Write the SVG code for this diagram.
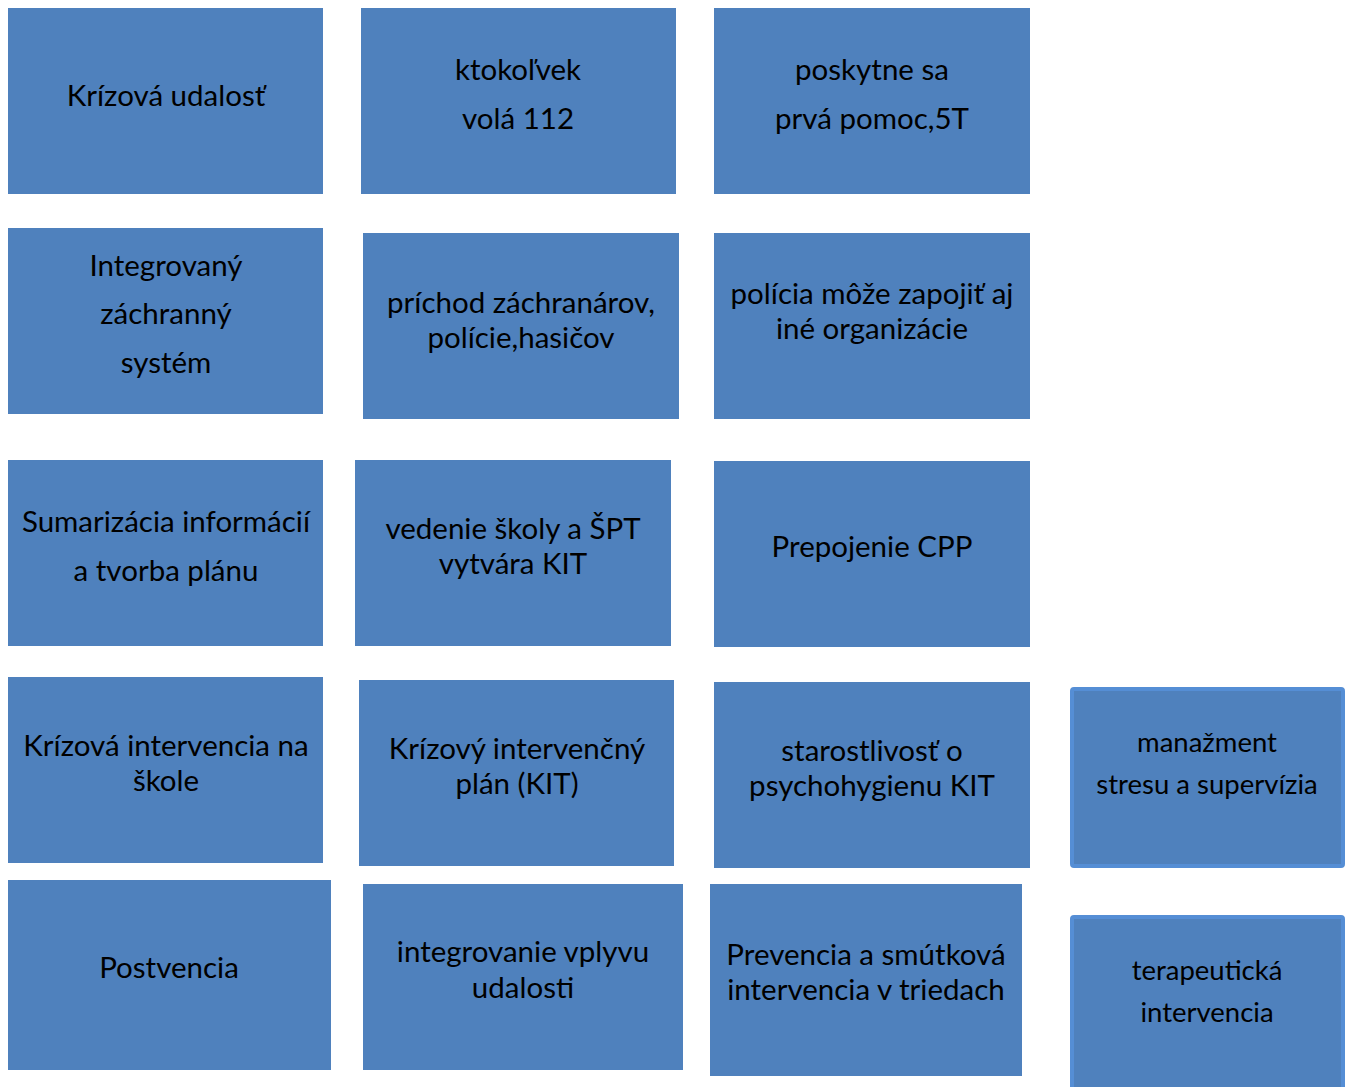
<svg xmlns="http://www.w3.org/2000/svg" width="1352" height="1087" viewBox="0 0 1352 1087">
<style>
.b{fill:#4F81BD;}
.b2{fill:#4F81BD;stroke:#558ED5;stroke-width:4;}
text{font-family:Lato,"Open Sans","Liberation Sans",sans-serif;font-size:29.5px;fill:#000;text-anchor:middle;}
.s{font-size:27.5px;}
</style>
<rect width="1352" height="1087" fill="#fff"/>
<g id="connectors"></g>
<g id="n1"><rect class="b" x="8" y="8" width="315" height="186"/><text x="166" y="106">Krízová udalosť</text></g>
<g id="n2"><rect class="b" x="361" y="8" width="315" height="186"/><text x="518" y="80">ktokoľvek</text><text x="518" y="129">volá 112</text></g>
<g id="n3"><rect class="b" x="714" y="8" width="316" height="186"/><text x="872" y="80">poskytne sa</text><text x="872" y="129">prvá pomoc,5T</text></g>
<g id="n4"><rect class="b" x="8" y="228" width="315" height="186"/><text x="166" y="276">Integrovaný</text><text x="166" y="324">záchranný</text><text x="166" y="373">systém</text></g>
<g id="n5"><rect class="b" x="363" y="233" width="316" height="186"/><text x="521" y="313">príchod záchranárov,</text><text x="521" y="348">polície,hasičov</text></g>
<g id="n6"><rect class="b" x="714" y="233" width="316" height="186"/><text x="872" y="304">polícia môže zapojiť aj</text><text x="872" y="339">iné organizácie</text></g>
<g id="n7"><rect class="b" x="8" y="460" width="315" height="186"/><text x="166" y="532">Sumarizácia informácií</text><text x="166" y="581">a tvorba plánu</text></g>
<g id="n8"><rect class="b" x="355" y="460" width="316" height="186"/><text x="513" y="539">vedenie školy a ŠPT</text><text x="513" y="574">vytvára KIT</text></g>
<g id="n9"><rect class="b" x="714" y="461" width="316" height="186"/><text x="872" y="557">Prepojenie CPP</text></g>
<g id="n10"><rect class="b" x="8" y="677" width="315" height="186"/><text x="166" y="756">Krízová intervencia na</text><text x="166" y="791">škole</text></g>
<g id="n11"><rect class="b" x="359" y="680" width="315" height="186"/><text x="517" y="759">Krízový intervenčný</text><text x="517" y="794">plán (KIT)</text></g>
<g id="n12"><rect class="b" x="714" y="682" width="316" height="186"/><text x="872" y="761">starostlivosť o</text><text x="872" y="796">psychohygienu KIT</text></g>
<g id="n13"><rect class="b2" x="1072" y="689" width="271" height="177" rx="2"/><text class="s" x="1207" y="752">manažment</text><text class="s" x="1207" y="794">stresu a supervízia</text></g>
<g id="n14"><rect class="b" x="8" y="880" width="323" height="190"/><text x="169" y="978">Postvencia</text></g>
<g id="n15"><rect class="b" x="363" y="884" width="320" height="186"/><text x="523" y="962">integrovanie vplyvu</text><text x="523" y="998">udalosti</text></g>
<g id="n16"><rect class="b" x="710" y="884" width="312" height="192"/><text x="866" y="965">Prevencia a smútková</text><text x="866" y="1000">intervencia v triedach</text></g>
<g id="n17"><rect class="b2" x="1072" y="917" width="271" height="180" rx="2"/><text class="s" x="1207" y="980">terapeutická</text><text class="s" x="1207" y="1022">intervencia</text></g>
</svg>
